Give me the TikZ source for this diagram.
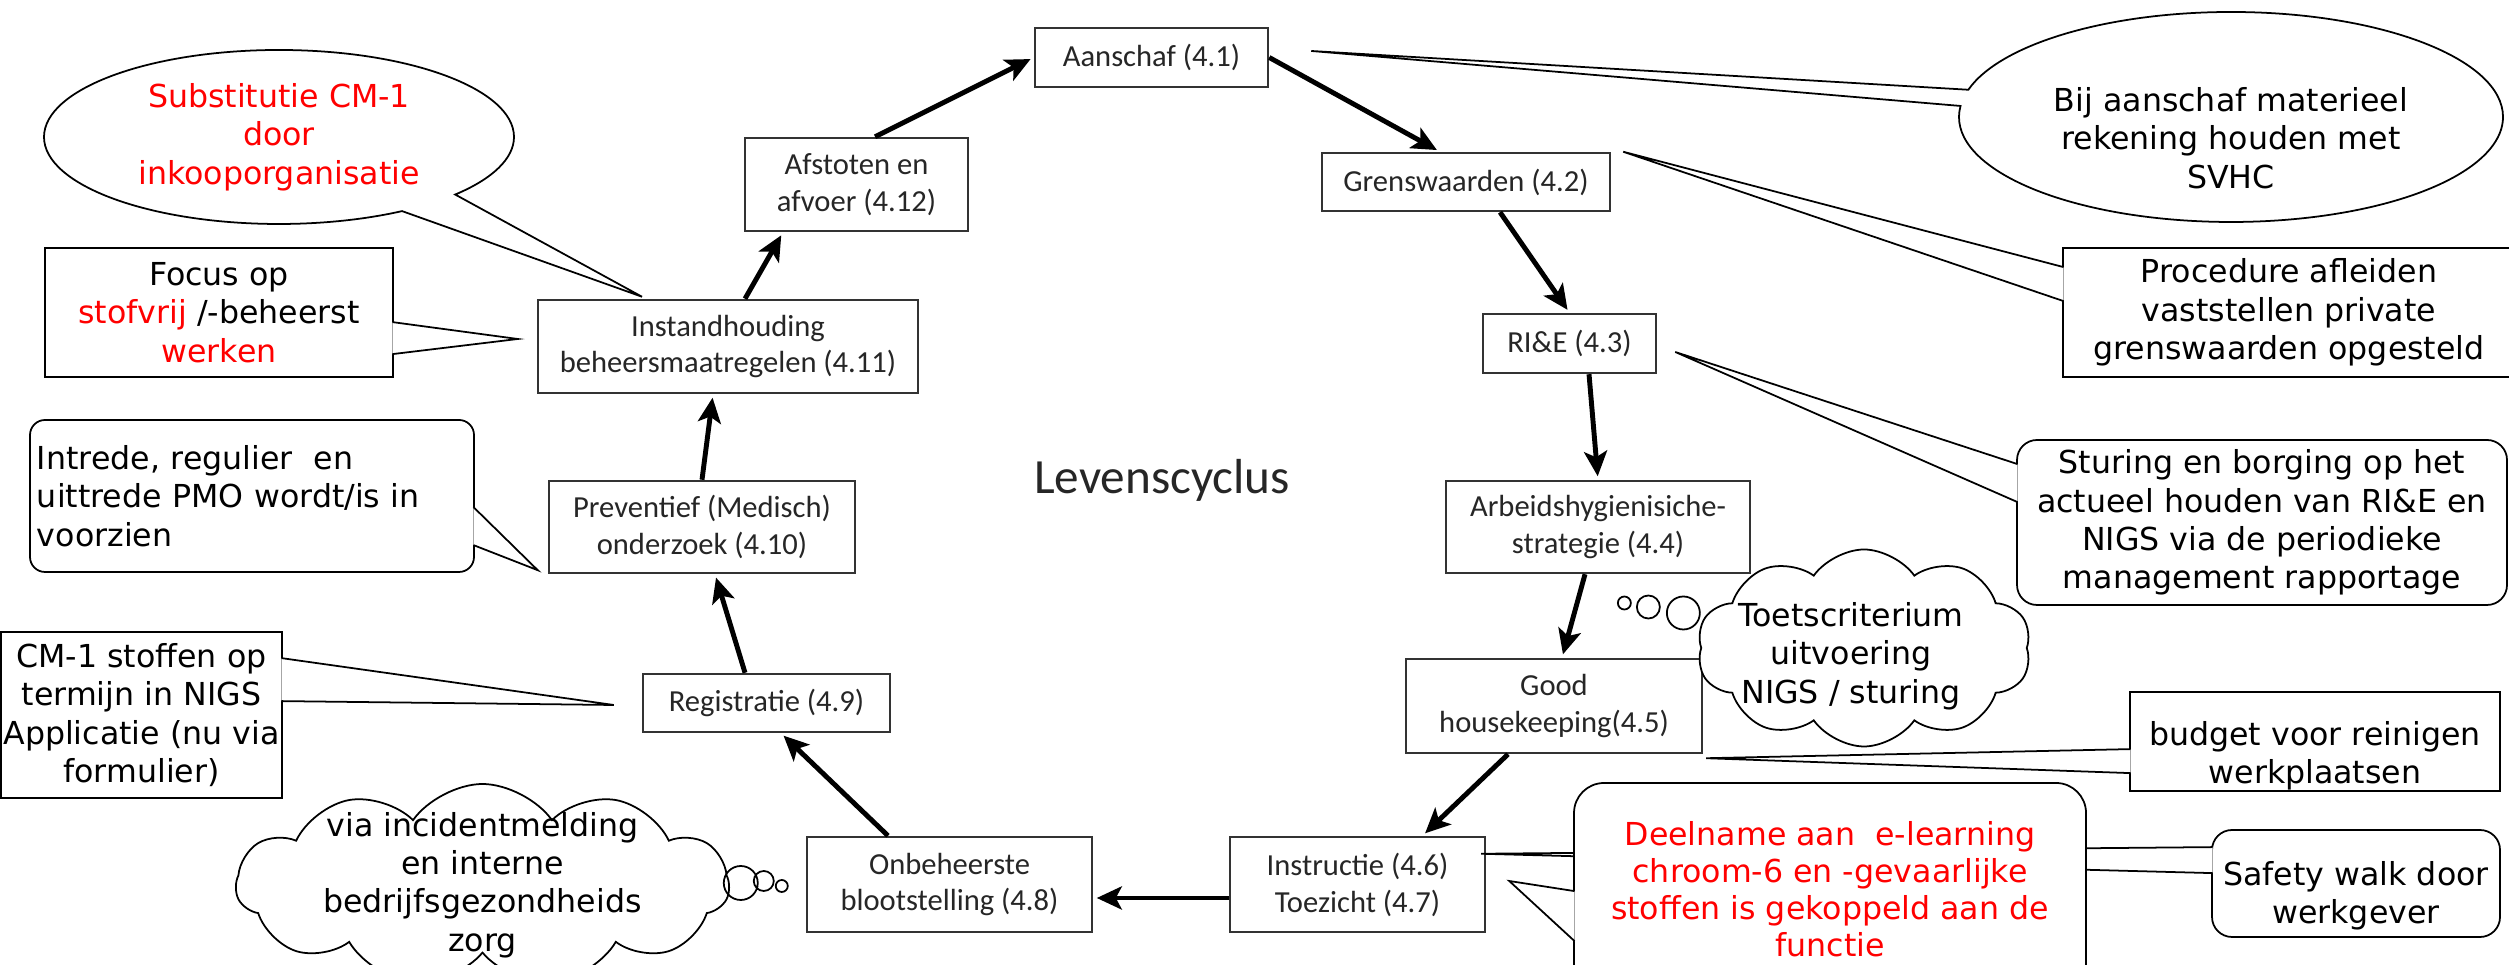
\documentclass[tikz,border=0pt]{standalone}
\usepackage{fontspec}
\setmainfont{DejaVu Sans}
\newfontfamily\fasefont{Carlito}
\usetikzlibrary{arrows.meta,calc,shapes.callouts,shapes.symbols}
\tikzstyle{fase} = [rectangle, draw=black!80, line width=0.7pt, fill=white, text=black!85,
    font=\fasefont\fontsize{8.7}{10.5}\selectfont, align=center, inner sep=0pt]
\tikzstyle{notitie} = [rectangle, draw, line width=0.5pt, fill=white,
    font=\fontsize{9}{10.9}\selectfont, align=center, inner sep=0pt]
\tikzstyle{ballon} = [notitie, ellipse callout]
\tikzstyle{wolk} = [cloud, draw, line width=0.5pt, fill=white, cloud puffs=11, cloud puff arc=110, inner sep=0pt]
\tikzstyle{staart} = [-, draw, line width=0.5pt, fill=white, shorten >=0pt]
\tikzstyle{bel} = [-, line width=0.5pt, shorten >=0pt]

\begin{document}
\begin{tikzpicture}[->,>={Stealth[length=2.5mm,width=2.3mm,inset=0.6mm]},shorten >=1pt,line width=1.4pt]
  \useasboundingbox (0,0) rectangle (25.09,9.65);

  \node[fase,minimum width=2.33cm,minimum height=0.59cm] (aanschaf) at (11.515,9.075) {Aanschaf (4.1)};
  \node[fase,minimum width=2.88cm,minimum height=0.58cm] (grens)    at (14.66,7.83)   {Grenswaarden (4.2)};
  \node[fase,minimum width=1.73cm,minimum height=0.59cm] (rie)      at (15.695,6.215) {RI\&E (4.3)};
  \node[fase,minimum width=3.04cm,minimum height=0.92cm] (arbeid)   at (15.98,4.38)   {Arbeidshygienisiche-\\strategie (4.4)};
  \node[fase,minimum width=2.96cm,minimum height=0.94cm] (good)     at (15.54,2.59)   {Good\\housekeeping(4.5)};
  \node[fase,minimum width=2.55cm,minimum height=0.95cm] (instr)    at (13.575,0.805) {Instructie (4.6)\\Toezicht (4.7)};
  \node[fase,minimum width=2.85cm,minimum height=0.95cm] (onbeh)    at (9.495,0.805)  {Onbeheerste\\blootstelling (4.8)};
  \node[fase,minimum width=2.47cm,minimum height=0.58cm] (registr)  at (7.665,2.62)   {Registratie (4.9)};
  \node[fase,minimum width=3.06cm,minimum height=0.92cm] (prevent)  at (7.02,4.38)    {Preventief (Medisch)\\onderzoek (4.10)};
  \node[fase,minimum width=3.80cm,minimum height=0.93cm] (instand)  at (7.28,6.185)   {Instandhouding\\beheersmaatregelen (4.11)};
  \node[fase,minimum width=2.23cm,minimum height=0.93cm] (afstoot)  at (8.565,7.805)  {Afstoten en\\afvoer (4.12)};

  \node[font=\fasefont\fontsize{14}{16}\selectfont, text=black!85] (titel) at (11.62,4.85) {Levenscyclus};

  \path ([xshift=1.85mm]afstoot.north) edge (aanschaf.west)
        (aanschaf.east) edge ([xshift=-2.6mm]grens.north)
        ([xshift=3.4mm]grens.south) edge (rie.north)
        ([xshift=1.95mm]rie.south) edge (arbeid.north)
        ([xshift=-1.3mm]arbeid.south) edge ([xshift=0.8mm]good.north)
        ([xshift=-4.6mm]good.south) edge ([xshift=6.5mm]instr.north)
        ([yshift=-1.35mm]instr.west) edge ([yshift=-1.35mm]onbeh.east)
        ([xshift=-6.15mm]onbeh.north) edge ([xshift=1.45mm]registr.south)
        ([xshift=-2.15mm]registr.north) edge ([xshift=1.3mm]prevent.south)
        (prevent.north) edge ([xshift=-1.5mm]instand.south)
        ([xshift=1.7mm]instand.north) edge ([xshift=-7.35mm]afstoot.south);

  % links
  \node[ballon, text=red, minimum width=4.70cm, minimum height=1.74cm, callout pointer arc=17,
        callout absolute pointer={($(instand.north)+(-0.86,0.02)$)}] (substit) at (2.79,8.28)
        {Substitutie CM-1\\door\\inkooporganisatie};

  \node[notitie, minimum width=3.48cm, minimum height=1.29cm] (focus) at (2.19,6.525)
        {Focus op\\\textcolor{red}{stofvrij} /-beheerst\\\textcolor{red}{werken}};
  \draw[staart] ($(focus.north east)+(-0.4pt,-0.75cm)$) -- ($(instand.west)+(-0.19,0.075)$)
        -- ($(focus.north east)+(-0.4pt,-1.07cm)$);

  \node[notitie, rounded corners=0.15cm, align=left, text width=4.3cm, minimum width=4.44cm,
        minimum height=1.52cm] (intrede) at (2.52,4.69)
        {Intrede, regulier\ \ en\\uittrede PMO wordt/is in\\voorzien};
  \draw[staart] ($(intrede.north east)+(-0.4pt,-0.88cm)$) -- ($(prevent.south west)+(-0.10,0.04)$)
        -- ($(intrede.north east)+(-0.4pt,-1.26cm)$);

  \node[notitie, minimum width=2.81cm, minimum height=1.66cm] (cmstof) at (1.415,2.50)
        {CM-1 stoffen op\\termijn in NIGS\\Applicatie (nu via\\formulier)};
  \draw[staart] ($(cmstof.north east)+(-0.4pt,-0.27cm)$) -- ($(registr.west)+(-0.28,-0.02)$)
        -- ($(cmstof.north east)+(-0.4pt,-0.70cm)$);

  \node[wolk, minimum width=4.93cm, minimum height=2.02cm] (incident) at (4.825,0.80) {};
  \node[notitie, draw=none, fill=none] (incidenttekst) at (incident)
        {via incidentmelding\\en interne\\bedrijfsgezondheids\\zorg};
  \draw[bel] ($(onbeh.west)+(-0.65,0.015)$) circle (0.17)
             ($(onbeh.west)+(-0.42,0.035)$) circle (0.10)
             ($(onbeh.west)+(-0.24,-0.015)$) circle (0.06);

  % rechts
  \node[ballon, minimum width=5.44cm, minimum height=2.10cm, callout pointer arc=9,
        callout absolute pointer={($(aanschaf.east)+(0.42,0.065)$)}] (svhc) at (22.31,8.48)
        {\rule{0pt}{0.66cm}Bij aanschaf materieel\\rekening houden met\\SVHC};

  \node[notitie, minimum width=4.52cm, minimum height=1.29cm] (proced) at (22.89,6.525)
        {Procedure afleiden\\vaststellen private\\grenswaarden opgesteld};
  \draw[staart] ($(proced.north west)+(0.4pt,-0.20cm)$) -- ($(grens.north east)+(0.12,0)$)
        -- ($(proced.north west)+(0.4pt,-0.54cm)$);

  \node[notitie, rounded corners=0.2cm, minimum width=4.90cm, minimum height=1.65cm] (sturing) at (22.62,4.425)
        {Sturing en borging op het\\actueel houden van RI\&E en\\NIGS via de periodieke\\management rapportage};
  \draw[staart] ($(sturing.north west)+(0.4pt,-0.25cm)$) -- ($(rie.east)+(0.18,-0.085)$)
        -- ($(sturing.north west)+(0.4pt,-0.63cm)$);

  \node[wolk, cloud puffs=10, minimum width=3.34cm, minimum height=1.97cm] (toets) at (18.64,3.17) {};
  \node[notitie, draw=none, fill=none] (toetstekst) at (18.51,3.09)
        {Toetscriterium\\uitvoering\\NIGS / sturing};
  \draw[bel] ($(toets.west)+(-0.76,0.45)$) circle (0.065)
             ($(toets.west)+(-0.52,0.41)$) circle (0.115)
             ($(toets.west)+(-0.17,0.35)$) circle (0.165);

  \node[notitie, minimum width=3.70cm, minimum height=0.99cm] (budget) at (23.15,2.235)
        {\rule{0pt}{0.52cm}budget voor reinigen\\werkplaatsen};
  \draw[staart] ($(budget.north west)+(0.4pt,-0.58cm)$) -- ($(good.south east)+(0.03,-0.04)$)
        -- ($(budget.north west)+(0.4pt,-0.82cm)$);

  \node[notitie, rounded corners=0.2cm, minimum width=2.88cm, minimum height=1.07cm] (safety) at (23.56,0.815)
        {\rule{0pt}{0.48cm}Safety walk door\\werkgever};
  \draw[staart] ($(safety.north west)+(0.4pt,-0.18cm)$) -- ($(instr.north east)+(-0.05,-0.18)$)
        -- ($(safety.north west)+(0.4pt,-0.44cm)$);

  \node[notitie, text=red, font=\fontsize{9}{10.5}\selectfont, rounded corners=0.3cm,
        minimum width=5.12cm, minimum height=2.12cm] (deelname) at (18.30,0.76)
        {Deelname aan\ \ e-learning\\chroom-6 en -gevaarlijke\\stoffen is gekoppeld aan de\\functie};
  \draw[staart] ($(deelname.north west)+(0.4pt,-1.09cm)$) -- ($(instr.east)+(0.23,0.035)$)
        -- ($(deelname.north west)+(0.4pt,-1.59cm)$);
\end{tikzpicture}
\end{document}
